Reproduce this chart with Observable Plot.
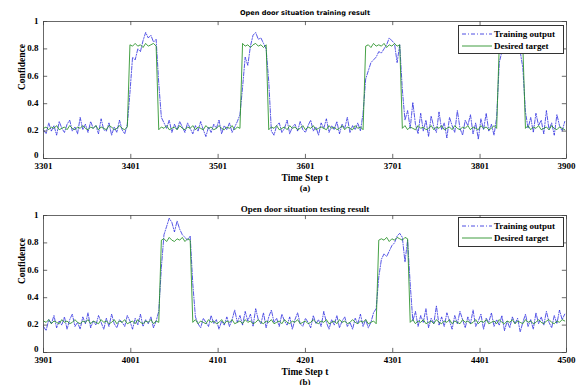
<!DOCTYPE html>
<html>
<head>
<meta charset="utf-8">
<script src="https://cdn.jsdelivr.net/npm/d3@7"></script>
<script src="https://cdn.jsdelivr.net/npm/@observablehq/plot@0.6"></script>
<style>
body{margin:0;background:#fff;}
#wrap{position:relative;width:577px;height:385px;overflow:hidden;background:#fff;}
.pan{position:absolute;left:0;}
.leg{position:absolute;left:458px;width:106px;box-sizing:border-box;border:1px solid #333;background:#fff;font:bold 9px "Liberation Serif",serif;color:#000;padding:2px 0 0 3px;}
.row{display:flex;align-items:center;height:12px;}
.row svg{margin-right:2px;}
</style>
</head>
<body>
<div id="wrap">
  <div id="p1" class="pan" style="top:0px"></div>
  <div id="p2" class="pan" style="top:194px"></div>
  <div class="leg" style="top:25px;height:29px">
    <div class="row"><svg width="30" height="6"><line x1="0" y1="3" x2="30" y2="3" stroke="#3a3ae0" stroke-width="0.9" stroke-dasharray="4,2,1,2"/></svg><span>Training output</span></div>
    <div class="row"><svg width="30" height="6"><line x1="0" y1="3" x2="30" y2="3" stroke="#2a922a" stroke-width="0.9"/></svg><span>Desired target</span></div>
  </div>
  <div class="leg" style="top:217px;height:30px">
    <div class="row"><svg width="30" height="6"><line x1="0" y1="3" x2="30" y2="3" stroke="#3a3ae0" stroke-width="0.9" stroke-dasharray="4,2,1,2"/></svg><span>Training output</span></div>
    <div class="row"><svg width="30" height="6"><line x1="0" y1="3" x2="30" y2="3" stroke="#2a922a" stroke-width="0.9"/></svg><span>Desired target</span></div>
  </div>
</div>
<script>
// ---- data (sampled every 3 time steps) ----
const step = 3;
const start1 = 3301, end1 = 3900;
const start2 = 3901, end2 = 4500;
const xTicks1 = [3301, 3401, 3501, 3601, 3701, 3801, 3900];
const xTicks2 = [3901, 4001, 4101, 4201, 4301, 4401, 4500];
const yTicks = [0, 0.2, 0.4, 0.6, 0.8, 1];
const yLabels = ["0", "0.2", "0.4", "0.6", "0.8", "1"];

const target1 = [
.22,.23,.21,.23,.22,.24,.21,.22,.23,.21,
.24,.22,.21,.23,.22,.24,.22,.21,.23,.22,
.24,.21,.23,.22,.21,.24,.23,.21,.22,.24,
.22,.21,.23,.83,.82,.84,.82,.83,.81,.84,
.82,.83,.84,.82,.21,.23,.22,.24,.21,.22,
.23,.21,.24,.22,.21,.23,.22,.24,.21,.23,
.22,.21,.24,.22,.23,.21,.22,.24,.22,.21,
.23,.22,.24,.21,.23,.22,.84,.82,.83,.81,
.83,.84,.82,.83,.81,.83,.21,.23,.22,.24,
.21,.22,.23,.21,.24,.22,.23,.21,.22,.24,
.21,.23,.22,.24,.21,.22,.23,.22,.21,.24,
.22,.23,.21,.22,.24,.21,.23,.22,.21,.24,
.22,.23,.21,.82,.83,.81,.84,.82,.83,.82,
.84,.81,.83,.82,.84,.82,.83,.22,.24,.21,
.23,.22,.21,.24,.22,.23,.21,.22,.24,.21,
.23,.22,.24,.21,.22,.23,.21,.24,.22,.21,
.23,.22,.24,.21,.23,.22,.21,.24,.22,.23,
.21,.22,.24,.22,.83,.82,.84,.82,.83,.81,
.84,.82,.83,.82,.22,.24,.21,.23,.22,.24,
.21,.22,.23,.21,.24,.22,.21,.23,.22,.21];

const output1 = [
.21,.18,.26,.20,.24,.17,.27,.22,.19,.25,
.28,.20,.23,.18,.30,.21,.25,.19,.27,.22,
.24,.18,.29,.21,.20,.26,.17,.23,.19,.28,
.21,.18,.25,.48,.74,.72,.80,.78,.86,.92,
.88,.90,.85,.87,.55,.30,.26,.22,.28,.19,
.25,.21,.27,.23,.19,.26,.22,.18,.24,.20,
.27,.21,.16,.23,.19,.25,.22,.28,.18,.24,
.21,.26,.19,.23,.27,.32,.52,.74,.68,.82,
.90,.92,.87,.88,.84,.80,.56,.20,.17,.24,
.26,.19,.22,.28,.18,.23,.25,.20,.27,.21,
.19,.24,.28,.20,.23,.17,.26,.22,.29,.19,
.24,.21,.27,.18,.25,.22,.30,.19,.24,.21,
.26,.20,.33,.58,.64,.70,.72,.74,.78,.77,
.80,.83,.88,.86,.84,.70,.83,.50,.28,.35,
.22,.41,.25,.18,.33,.20,.28,.16,.31,.23,
.19,.34,.21,.26,.15,.30,.24,.19,.35,.22,
.17,.28,.24,.32,.18,.26,.14,.29,.21,.33,
.20,.25,.17,.30,.70,.78,.80,.82,.85,.83,
.80,.82,.78,.66,.34,.22,.30,.19,.33,.24,
.28,.18,.35,.21,.26,.17,.32,.24,.20,.27];

const target2 = [
.23,.22,.24,.21,.23,.22,.21,.24,.22,.23,
.21,.22,.24,.22,.21,.23,.22,.24,.21,.23,
.22,.21,.24,.22,.23,.21,.22,.24,.21,.23,
.22,.24,.21,.22,.23,.21,.24,.22,.21,.23,
.22,.24,.21,.23,.22,.82,.83,.81,.84,.82,
.81,.83,.82,.84,.81,.83,.82,.22,.24,.21,
.23,.22,.21,.24,.22,.23,.21,.22,.24,.21,
.23,.22,.24,.21,.22,.23,.21,.24,.22,.23,
.21,.22,.24,.22,.21,.23,.22,.24,.21,.22,
.23,.21,.24,.22,.21,.23,.22,.24,.21,.22,
.23,.21,.22,.24,.22,.21,.23,.22,.24,.21,
.22,.23,.21,.24,.22,.23,.21,.22,.24,.22,
.21,.23,.22,.24,.21,.22,.23,.21,.82,.83,
.82,.84,.81,.83,.82,.84,.83,.82,.84,.83,
.22,.24,.21,.23,.22,.24,.21,.22,.23,.21,
.24,.22,.21,.23,.22,.24,.21,.23,.22,.21,
.24,.22,.23,.21,.22,.24,.21,.23,.22,.24,
.21,.22,.23,.21,.24,.22,.21,.23,.22,.24,
.21,.23,.22,.21,.24,.22,.23,.21,.22,.24,
.22,.21,.23,.24,.22,.21,.23,.22,.24,.23];

const output2 = [
.19,.16,.24,.21,.27,.18,.23,.20,.26,.17,
.24,.28,.19,.22,.17,.26,.21,.29,.18,.23,
.20,.27,.22,.17,.25,.19,.28,.21,.18,.24,
.22,.19,.27,.23,.17,.25,.20,.28,.19,.24,
.21,.26,.18,.23,.30,.62,.86,.92,.98,.95,
.88,.96,.90,.86,.84,.82,.85,.50,.26,.21,
.18,.25,.22,.19,.27,.21,.24,.17,.23,.20,
.26,.19,.24,.31,.22,.27,.20,.30,.23,.28,
.19,.32,.24,.21,.29,.18,.26,.31,.22,.25,
.19,.28,.23,.20,.26,.17,.24,.29,.21,.19,
.25,.22,.18,.27,.21,.24,.19,.30,.22,.17,
.24,.20,.27,.18,.23,.26,.19,.22,.17,.25,
.21,.28,.19,.24,.18,.22,.29,.32,.55,.68,
.72,.70,.74,.78,.80,.85,.87,.84,.66,.82,
.50,.23,.30,.19,.27,.22,.32,.18,.25,.21,
.34,.20,.26,.19,.29,.23,.17,.27,.21,.30,
.24,.18,.26,.21,.31,.19,.23,.28,.17,.25,
.22,.29,.19,.24,.20,.27,.16,.23,.18,.26,
.21,.25,.15,.22,.28,.19,.24,.17,.29,.21,
.26,.20,.30,.22,.18,.27,.21,.31,.24,.28];

const title1 = "Open door situation training result";
const title2 = "Open door situation testing result";

// ---- drawing ----
const serif = "Liberation Serif, Times New Roman, serif";

function panel({start, end, xTicks, output, target, title, titleFont, titleSize, titleDy, tag, height}) {
  const outData = output.map((v, i) => ({t: start + i * step, v}));
  const tgtData = target.map((v, i) => ({t: start + i * step, v}));
  const span = end - start;
  const tx = 0.008 * span;
  const ty = 0.03;
  const txt = {fill: "#000", fontFamily: serif, fontWeight: "bold", fontSize: 9};
  const yIdx = yTicks.map((d, i) => i);
  return Plot.plot({
    width: 577, height,
    marginLeft: 43, marginRight: 11, marginTop: 21, marginBottom: height - 158,
    x: {domain: [start, end], axis: null},
    y: {domain: [0, 1], axis: null},
    style: {background: "#fff", overflow: "visible"},
    marks: [
      Plot.lineY(outData, {x: "t", y: "v", stroke: "#2d2de0", strokeWidth: 0.8, strokeDasharray: "4,1.5,1,1.5"}),
      Plot.lineY(tgtData, {x: "t", y: "v", stroke: "#259025", strokeWidth: 0.85}),
      Plot.frame({stroke: "#444", strokeWidth: 0.8}),
      Plot.ruleX(xTicks, {x: d => d, y1: 0, y2: ty, stroke: "#444", strokeWidth: 0.8}),
      Plot.ruleX(xTicks, {x: d => d, y1: 1, y2: 1 - ty, stroke: "#444", strokeWidth: 0.8}),
      Plot.ruleY(yTicks, {y: d => d, x1: start, x2: start + tx, stroke: "#444", strokeWidth: 0.8}),
      Plot.ruleY(yTicks, {y: d => d, x1: end, x2: end - tx, stroke: "#444", strokeWidth: 0.8}),
      Plot.text(xTicks, {x: d => d, text: d => String(d), frameAnchor: "bottom", dy: 10, ...txt}),
      Plot.text(yIdx.filter(i => i > 0), {y: i => yTicks[i], text: i => yLabels[i], frameAnchor: "left", dx: -5, dy: -0.5, textAnchor: "end", ...txt}),
      Plot.text(yIdx.filter(i => i === 0), {y: i => yTicks[i], text: i => yLabels[i], frameAnchor: "left", dx: -5, dy: -3.5, textAnchor: "end", ...txt}),
      Plot.text(["Confidence"], {text: d => d, frameAnchor: "left", dx: -22, rotate: -90, ...txt, fontSize: 9.5}),
      Plot.text(["Time Step t"], {text: d => d, frameAnchor: "bottom", dy: 22, ...txt, fontSize: 9.5}),
      Plot.text([tag], {text: d => d, frameAnchor: "bottom", dy: 32, ...txt, fontSize: 9}),
      Plot.text([title], {text: d => d, frameAnchor: "top", dy: titleDy, fill: "#000", fontFamily: titleFont, fontWeight: "bold", fontSize: titleSize})
    ]
  });
}

document.getElementById("p1").appendChild(panel({
  start: start1, end: end1, xTicks: xTicks1, output: output1, target: target1,
  title: title1, titleFont: "DejaVu Sans, sans-serif", titleSize: 6.6, titleDy: -11, tag: "(a)", height: 195
}));
document.getElementById("p2").appendChild(panel({
  start: start2, end: end2, xTicks: xTicks2, output: output2, target: target2,
  title: title2, titleFont: serif, titleSize: 9, titleDy: -10, tag: "(b)", height: 194
}));
</script>
</body>
</html>
